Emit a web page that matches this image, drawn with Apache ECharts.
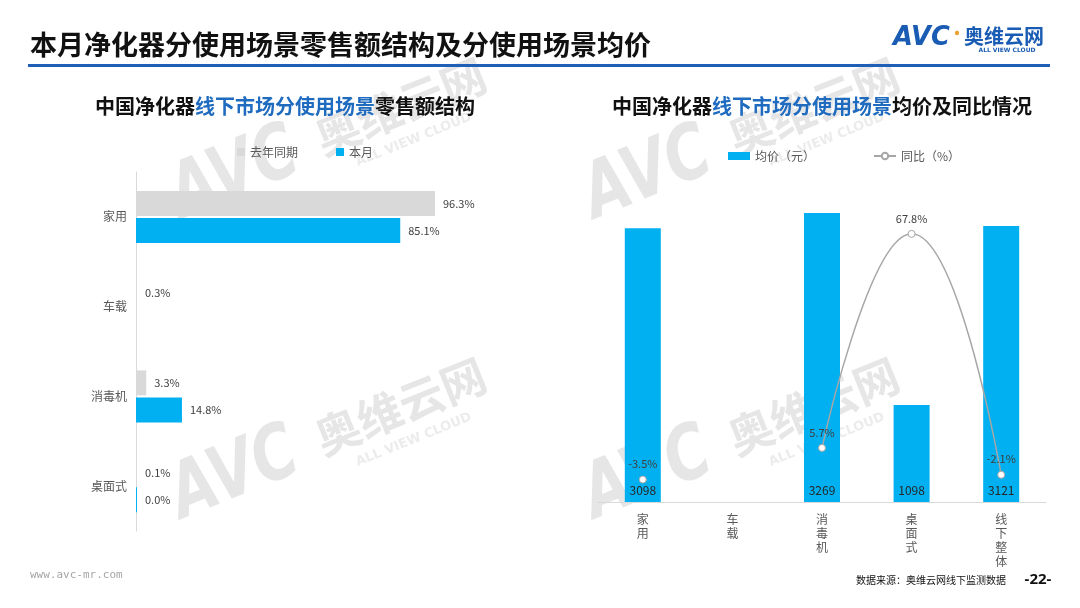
<!DOCTYPE html>
<html><head><meta charset="utf-8">
<script src="https://cdn.jsdelivr.net/npm/echarts@6/dist/echarts.min.js"></script>
<style>html,body{margin:0;padding:0;background:#fff;}#c{width:1080px;height:608px;}</style>
</head><body><div id="c"></div>
<script>
// ---- data ----
const structCategories = ['家用', '车载', '消毒机', '桌面式'];
const structLastYear = [96.3, 0.3, 3.3, 0.1];
const structThisMonth = [85.1, null, 14.8, 0.0];
const priceCategories = ['家用', '车载', '消毒机', '桌面式', '线下整体'];
const avgPrice = [3098, null, 3269, 1098, 3121];
const yoyPct = [-3.5, null, 5.7, 67.8, -2.1];
const legendStruct = ['去年同期', '本月'];
const legendPrice = ['均价（元）', '同比（%）'];

const FONT = '"Noto Sans CJK SC", "Noto Sans", sans-serif';
const BLUE = '#00b0f0';
const GRAY = '#d9d9d9';

function watermark(x, y) {
  return {
    type: 'group', x: x, y: y, rotation: 0.384, z: -10, silent: true,
    children: [
      { type: 'text', x: 0, y: 4, scaleX: 0.78, z: -10,
        style: { text: 'AVC', font: 'italic bold 76px "DejaVu Sans"', fill: '#e6e6e6', textAlign: 'left', textVerticalAlign: 'bottom' } },
      { type: 'text', x: 155, y: -14, z: -10,
        style: { text: '奥维云网', font: 'bold 45px "Noto Sans CJK SC"', fill: '#e6e6e6', textAlign: 'left', textVerticalAlign: 'bottom' } },
      { type: 'text', x: 183, y: 6, z: -10,
        style: { text: 'ALL VIEW CLOUD', font: 'bold 13px "DejaVu Sans"', fill: '#ececec', textAlign: 'left', textVerticalAlign: 'bottom' } }
    ]
  };
}

const chart = echarts.init(document.getElementById('c'));
const option = {
  backgroundColor: '#fff',
  animation: false,
  textStyle: { fontFamily: FONT },
  title: [
    { text: '中国净化器{b|线下市场分使用场景}零售额结构', left: 280, top: 91, textAlign: 'center',
      textStyle: { fontSize: 20, fontWeight: 'bold', color: '#111', fontFamily: FONT,
        rich: { b: { fontSize: 20, fontWeight: 'bold', color: '#1f6bbf', fontFamily: FONT } } } },
    { text: '中国净化器{b|线下市场分使用场景}均价及同比情况', left: 817, top: 91, textAlign: 'center',
      textStyle: { fontSize: 20, fontWeight: 'bold', color: '#111', fontFamily: FONT,
        rich: { b: { fontSize: 20, fontWeight: 'bold', color: '#1f6bbf', fontFamily: FONT } } } }
  ],
  legend: [
    { data: legendStruct, left: 232, top: 141, itemWidth: 8, itemHeight: 8, itemGap: 38, icon: 'rect',
      textStyle: { fontSize: 12, color: '#595959', fontFamily: FONT } },
    { data: [{ name: legendPrice[0], icon: 'rect' }, { name: legendPrice[1] }], left: 723, top: 145,
      itemWidth: 22, itemHeight: 8, itemGap: 58,
      textStyle: { fontSize: 12, color: '#595959', fontFamily: FONT } }
  ],
  grid: [
    { left: 136, top: 172, width: 310.5, height: 359, containLabel: false },
    { left: 598, right: 34, top: 148.4, height: 353.6, containLabel: false }
  ],
  xAxis: [
    { type: 'value', gridIndex: 0, min: 0, max: 100, show: false },
    { type: 'category', gridIndex: 1, data: priceCategories,
      axisLine: { lineStyle: { color: '#d9d9d9' } }, axisTick: { show: false },
      axisLabel: { color: '#595959', fontSize: 12, lineHeight: 14, margin: 10, interval: 0,
        formatter: v => v.split('').join('\n') } }
  ],
  yAxis: [
    { type: 'category', gridIndex: 0, data: structCategories, inverse: true,
      axisLine: { lineStyle: { color: '#d9d9d9' } }, axisTick: { show: false },
      axisLabel: { color: '#595959', fontSize: 12, margin: 9 } },
    { type: 'value', gridIndex: 1, min: 0, max: 4000, show: false, splitLine: { show: false } },
    { type: 'value', gridIndex: 1, min: -10, max: 92.6, show: false, splitLine: { show: false } }
  ],
  series: [
    { name: legendStruct[0], type: 'bar', xAxisIndex: 0, yAxisIndex: 0, data: structLastYear,
      barWidth: 25, barGap: '8%', barMinHeight: 1, itemStyle: { color: GRAY },
      label: { show: true, position: 'right', distance: 8, color: '#404040', fontSize: 11,
        formatter: p => p.value.toFixed(1) + '%' } },
    { name: legendStruct[1], type: 'bar', xAxisIndex: 0, yAxisIndex: 0, data: structThisMonth,
      barWidth: 25, barGap: '8%', barMinHeight: 1, itemStyle: { color: BLUE },
      label: { show: true, position: 'right', distance: 8, color: '#404040', fontSize: 11,
        formatter: p => p.value.toFixed(1) + '%' } },
    { name: legendPrice[0], type: 'bar', xAxisIndex: 1, yAxisIndex: 1, data: avgPrice,
      barWidth: 36, itemStyle: { color: BLUE },
      label: { show: true, position: 'insideBottom', distance: 6, color: '#262626', fontSize: 12 } },
    { name: legendPrice[1], type: 'line', xAxisIndex: 1, yAxisIndex: 2, data: yoyPct,
      smooth: 0.5, connectNulls: false, symbol: 'circle', symbolSize: 7, z: 5,
      lineStyle: { color: '#a6a6a6', width: 1.5 },
      itemStyle: { color: '#fff', borderColor: '#a6a6a6', borderWidth: 1 },
      label: { show: true, position: 'top', distance: 6, color: '#404040', fontSize: 11,
        formatter: p => p.value + '%' } }
  ],
  graphic: [
    watermark(187, 232), watermark(600, 232), watermark(187, 532), watermark(600, 532),
    { type: 'text', x: 30, y: 45, style: { text: '本月净化器分使用场景零售额结构及分使用场景均价',
        font: 'bold 27px "Noto Sans CJK SC"', fill: '#111', textAlign: 'left', textVerticalAlign: 'middle' } },
    { type: 'rect', shape: { x: 28, y: 64, width: 1022, height: 3 }, style: { fill: '#1f5fb8' } },
    { type: 'text', x: 893, y: 51, scaleX: 0.95, style: { text: 'AVC', font: 'italic bold 27px "DejaVu Sans"', fill: '#1a5cb4', textAlign: 'left', textVerticalAlign: 'bottom' } },
    { type: 'circle', shape: { cx: 957, cy: 33, r: 2.2 }, style: { fill: '#f0a030' } },
    { type: 'text', x: 964, y: 36, style: { text: '奥维云网', font: 'bold 20px "Noto Sans CJK SC"', fill: '#1a5cb4', textAlign: 'left', textVerticalAlign: 'middle' } },
    { type: 'text', x: 1007, y: 50, style: { text: 'ALL VIEW CLOUD', font: 'bold 6px "DejaVu Sans"', fill: '#1a5cb4', textAlign: 'center', textVerticalAlign: 'middle' } },
    { type: 'text', x: 30, y: 575, style: { text: 'www.avc-mr.com', font: '11px "DejaVu Sans Mono"', fill: '#a6a6a6', textAlign: 'left', textVerticalAlign: 'middle' } },
    { type: 'text', x: 1006, y: 580, style: { text: '数据来源：奥维云网线下监测数据', font: '10px "Noto Sans CJK SC"', fill: '#111', textAlign: 'right', textVerticalAlign: 'middle' } },
    { type: 'text', x: 1038, y: 580, style: { text: '-22-', font: 'bold 15px "Noto Sans"', fill: '#111', textAlign: 'center', textVerticalAlign: 'middle' } }
  ]
};
chart.setOption(option);
</script></body></html>
